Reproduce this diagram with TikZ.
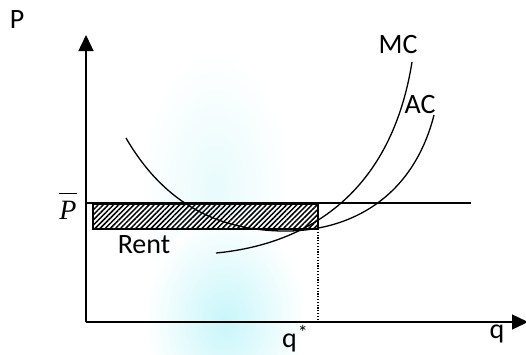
\documentclass[tikz,border=0pt]{standalone}
\usepackage{fontspec}
\setmainfont{Carlito}
\newfontfamily\tnr{Liberation Serif}
\usetikzlibrary{arrows.meta,patterns.meta}
\definecolor{blobC}{HTML}{C8F6FA}
\definecolor{blobB}{HTML}{E8FBFC}
\begin{document}
\begin{tikzpicture}[x=1pt,y=-1pt,
  lbl/.style={inner sep=0pt,anchor=base,font=\fontsize{28}{30}\selectfont},
  curve/.style={line width=1.3pt},
  axis/.style={line width=1.4pt,-{Triangle[length=16pt,width=15pt]}}]
\useasboundingbox (0,0) rectangle (526,354);
% faint background blob
\shade[inner color=blobB, outer color=white] (215,190) ellipse (75 and 140);
\shade[inner color=blobC, outer color=white] (225,320) ellipse (80 and 105);
% axes
\coordinate (O) at (86,322);
\coordinate (Ytop) at (86,35);
\coordinate (Xend) at (528,322);
\draw[axis] (O) -- (Ytop);
\draw[axis] (O) -- (Xend);
% price line
\coordinate (Pl) at (86,203);
\coordinate (Pr) at (471,203);
\draw[curve] (Pl) -- (Pr);
% rent rectangle
\coordinate (R1) at (93,204);
\coordinate (R2) at (318,229);
\draw[line width=1.2pt, pattern={Lines[angle=45,distance=3.6pt,line width=1.5pt]}] (R1) rectangle (R2);
% dotted line to q*
\coordinate (Qtop) at (318,229);
\coordinate (Qbot) at (318,322);
\draw[line width=1.2pt, dash pattern=on 1.2pt off 1.6pt] (Qtop) -- (Qbot);
% AC curve
\coordinate (AC1) at (126,138);
\coordinate (ACm) at (290,231);
\coordinate (AC2) at (434,115);
\draw[curve] (AC1) .. controls (165,205) and (220,232) .. (ACm)
                   .. controls (360,229) and (415,190) .. (AC2);
% MC curve
\coordinate (MC1) at (216,253);
\coordinate (MC2) at (412,62);
\draw[curve] (MC1) .. controls (300,245) and (390,200) .. (MC2);
% labels
\node[lbl] (P) at (17,28) {P};
\node[lbl] (MC) at (398,53) {MC};
\node[lbl] (AC) at (420,113) {AC};
\node[lbl] (rent) at (144,253) {Rent};
\node[lbl] (q) at (497,338) {q};
\node[lbl, anchor=base west] (qs) at (282,347) {q\hspace{1pt}\raisebox{8pt}{\fontsize{20}{20}\selectfont *}};
\node[anchor=base, inner sep=0pt] (Pbar) at (68,219) {\tnr\fontsize{28}{30}\selectfont$\overline{\mbox{\itshape P}\rule{0pt}{24pt}}$};
\end{tikzpicture}
\end{document}
